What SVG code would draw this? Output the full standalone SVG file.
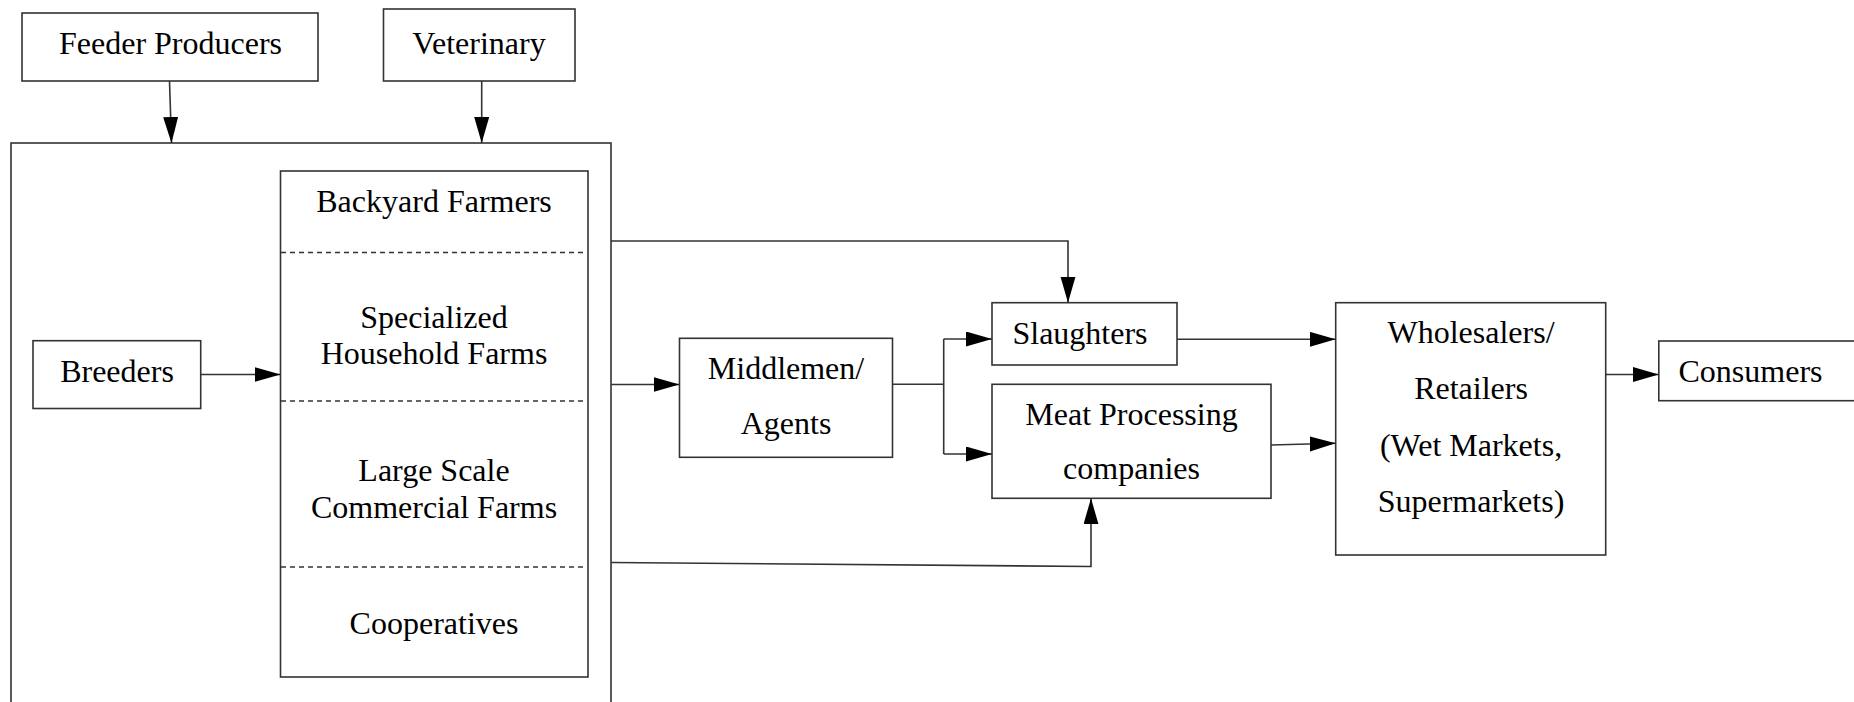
<svg xmlns="http://www.w3.org/2000/svg" width="1854" height="702" viewBox="0 0 1854 702">
  <defs>
    <style>
      .box { fill: #ffffff; stroke: #333333; stroke-width: 1.6; }
      .frame { fill: none; stroke: #333333; stroke-width: 1.6; }
      .sep { stroke: #333333; stroke-width: 1.4; stroke-dasharray: 5 4; }
      .lbl { font-family: "Liberation Serif", "Times New Roman", serif; font-size: 32px; fill: #000000; text-anchor: middle; }
      .wire { fill: none; stroke: #333333; stroke-width: 1.6; }
      .arrow { marker-end: url(#head); }
    </style>
    <marker id="head" markerUnits="userSpaceOnUse" markerWidth="28" markerHeight="16" refX="26" refY="7.5" orient="auto">
      <path d="M0,0 L26,7.5 L0,15 z" fill="#000000"/>
    </marker>
  </defs>

  <rect width="1854" height="702" fill="#ffffff"/>

  <!-- outer producer group frame -->
  <g id="producer-group">
    <rect class="frame" x="11" y="143" width="600" height="600"/>
  </g>

  <g id="feeder-producers">
    <rect class="box" x="22" y="13" width="296" height="68"/>
    <text class="lbl" x="170.5" y="53.5">Feeder Producers</text>
  </g>

  <g id="veterinary">
    <rect class="box" x="383.5" y="9" width="191.5" height="72"/>
    <text class="lbl" x="479" y="53.5">Veterinary</text>
  </g>

  <g id="breeders">
    <rect class="box" x="33" y="340.7" width="167.7" height="67.8"/>
    <text class="lbl" x="117" y="382">Breeders</text>
  </g>

  <!-- stacked farm types -->
  <g id="farms">
    <rect class="box" x="280.5" y="171" width="307.5" height="506"/>
    <line class="sep" x1="281" y1="252.5" x2="587" y2="252.5"/>
    <line class="sep" x1="281" y1="401" x2="587" y2="401"/>
    <line class="sep" x1="281" y1="567" x2="587" y2="567"/>
    <text class="lbl" x="434" y="212">Backyard Farmers</text>
    <text class="lbl" x="434" y="327.5">Specialized</text>
    <text class="lbl" x="434" y="364">Household Farms</text>
    <text class="lbl" x="434" y="481">Large Scale</text>
    <text class="lbl" x="434" y="518">Commercial Farms</text>
    <text class="lbl" x="434" y="633.5">Cooperatives</text>
  </g>

  <g id="middlemen">
    <rect class="box" x="679.5" y="338.3" width="213" height="119"/>
    <text class="lbl" x="786" y="379">Middlemen/</text>
    <text class="lbl" x="786" y="434">Agents</text>
  </g>

  <g id="slaughters">
    <rect class="box" x="992" y="302.7" width="185" height="62.3"/>
    <text class="lbl" x="1080" y="344">Slaughters</text>
  </g>

  <g id="meat-processing">
    <rect class="box" x="992" y="384.3" width="279" height="114"/>
    <text class="lbl" x="1131.5" y="425">Meat Processing</text>
    <text class="lbl" x="1131.5" y="479">companies</text>
  </g>

  <g id="wholesalers">
    <rect class="box" x="1335.7" y="302.7" width="270" height="252.3"/>
    <text class="lbl" x="1471" y="342.5">Wholesalers/</text>
    <text class="lbl" x="1471" y="399">Retailers</text>
    <text class="lbl" x="1471" y="455.5">(Wet Markets,</text>
    <text class="lbl" x="1471" y="512">Supermarkets)</text>
  </g>

  <g id="consumers">
    <rect class="box" x="1658.8" y="341" width="220" height="59.7"/>
    <text class="lbl" x="1750.5" y="382">Consumers</text>
  </g>

  <!-- connectors -->
  <g id="connectors">
    <path class="wire arrow" d="M169.5,81 L171.5,143"/>
    <path class="wire arrow" d="M481.7,81 L481.7,143"/>
    <path class="wire arrow" d="M200.7,374.5 L280.5,374.5"/>
    <path class="wire arrow" d="M611,384.5 L679.5,384.5"/>
    <path class="wire arrow" d="M611,241 L1068,241 L1068,302.7"/>
    <path class="wire" d="M892.5,384.3 L943.7,384.3 M943.7,339 L943.7,454"/>
    <path class="wire arrow" d="M943.7,339 L992,339"/>
    <path class="wire arrow" d="M943.7,454 L992,454"/>
    <path class="wire arrow" d="M611,562.5 L1091,566.5 L1091,498.3"/>
    <path class="wire arrow" d="M1177,339.3 L1335.7,339.3"/>
    <path class="wire arrow" d="M1271,445 L1335.7,443.3"/>
    <path class="wire arrow" d="M1605.7,374.5 L1658.8,374.5"/>
  </g>
</svg>
